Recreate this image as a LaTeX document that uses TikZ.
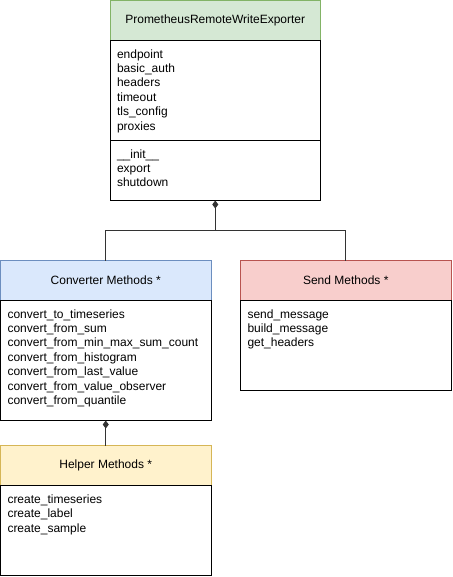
\documentclass[tikz,border=0pt]{standalone}
\usepackage{fontspec}
\setmainfont{Liberation Sans}
\usetikzlibrary{positioning,arrows.meta}

\definecolor{greenhead}{HTML}{D5E8D4}
\definecolor{greenline}{HTML}{82B366}
\definecolor{bluehead}{HTML}{DAE8FC}
\definecolor{blueline}{HTML}{6C8EBF}
\definecolor{redhead}{HTML}{F8CECC}
\definecolor{redline}{HTML}{B85450}
\definecolor{yellowhead}{HTML}{FFF2CC}
\definecolor{yellowline}{HTML}{D6B656}

% member list with fixed height, text at the top
\def\mlist#1#2{\parbox[t][#1][t]{196.5pt}{#2}}

\begin{document}
\begin{tikzpicture}[x=1pt,y=-1pt,
    font=\fontsize{12pt}{14.4pt}\selectfont,
    header/.style={draw, anchor=north west, minimum width=210.5pt,
      minimum height=40pt, inner sep=0pt, outer sep=0pt, line width=0.9pt},
    members/.style={draw, fill=white, below=0pt of #1, inner xsep=7pt,
      inner ysep=9pt, outer sep=0pt, line width=0.9pt, align=left},
    composition/.style={{Diamond[length=8pt,width=6pt]}-, line width=0.9pt,
      draw=black!80}]
                  \useasboundingbox (0,0) rectangle (452,577);
                  % exporter class
                  \node[header, fill=greenhead, draw=greenline] (exphead) at (110,0.5) {PrometheusRemoteWriteExporter};
                  \node[members=exphead] (expattr) {\mlist{82pt}{endpoint\\basic\_auth\\headers\\timeout\\tls\_config\\proxies}};
                  \node[members=expattr] (expmeth) {\mlist{42pt}{\_\_init\_\_\\export\\shutdown}};
                  % method groups
                  \node[header, fill=bluehead, draw=blueline] (convhead) at (0.5,260.5) {Converter Methods *};
                  \node[members=convhead] (convmeth) {\mlist{102pt}{convert\_to\_timeseries\\convert\_from\_sum\\convert\_from\_min\_max\_sum\_count\\convert\_from\_histogram\\convert\_from\_last\_value\\convert\_from\_value\_observer\\convert\_from\_quantile}};
                  \node[header, fill=redhead, draw=redline] (sendhead) at (240.5,260.5) {Send Methods *};
                  \node[members=sendhead] (sendmeth) {\mlist{72pt}{send\_message\\build\_message\\get\_headers}};
                  \node[header, fill=yellowhead, draw=yellowline] (helphead) at (0.5,445.5) {Helper Methods *};
                  \node[members=helphead] (helpmeth) {\mlist{72pt}{create\_timeseries\\create\_label\\create\_sample}};
                  % connectors
                  \draw[composition] (expmeth.south) -- ++(0,30) coordinate (split);
                  \draw[line width=0.9pt, draw=black!80] (split) -| (convhead.north);
                  \draw[line width=0.9pt, draw=black!80] (split) -| (sendhead.north);
                  \draw[composition] (convmeth.south) -- (helphead.north);
                \end{tikzpicture}
\end{document}
